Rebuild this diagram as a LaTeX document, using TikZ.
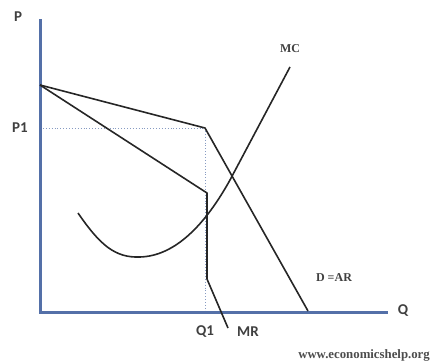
\documentclass[tikz,border=0pt]{standalone}
\usepackage{fontspec}
\setmainfont{Liberation Serif}
\newfontfamily\lblfont{Carlito}
\begin{document}
\begin{tikzpicture}[x=1pt,y=-1pt,
  axisline/.style={draw=axisblue,line width=3pt},
  curve/.style={draw=black!85,line width=1.6pt,line join=round},
  guide/.style={draw=axisblue!70,line width=0.9pt,dotted},
  sanslbl/.style={font=\lblfont\bfseries\fontsize{15}{15}\selectfont,text=black!75,inner sep=0pt},
  seriflbl/.style={font=\bfseries\fontsize{12}{12}\selectfont,text=black!75,inner sep=0pt},
  wmark/.style={font=\bfseries\fontsize{12.8}{12.8}\selectfont,text=black!70,inner sep=0pt,anchor=east}]
\definecolor{axisblue}{RGB}{84,112,168}
\useasboundingbox (0,0) rectangle (431,364);
% coordinates
\coordinate (ytop) at (40,19);
\coordinate (orig) at (40,312);
\coordinate (xend) at (388,312);
\coordinate (A) at (40,85);
\coordinate (K) at (205,128);
\coordinate (Dend) at (308,311);
\coordinate (M1) at (207,193);
\coordinate (M2) at (207,279);
\coordinate (Mend) at (228,328);
\coordinate (P1y) at (40,128);
\coordinate (Q1x) at (205,311);
\coordinate (C0) at (78,213);
\coordinate (Cmin) at (140,257);
\coordinate (Cj) at (230,180);
\coordinate (Ctop) at (290,67);
% guides
\draw[guide] (P1y) -- (K);
\draw[guide] (K) -- (Q1x);
% axes
\draw[axisline] (ytop) -- (orig) -- (xend);
% demand curve
\draw[curve] (A) -- (K) -- (Dend);
% MR
\draw[curve] (A) -- (M1) -- (M2) -- (Mend);
% MC
\draw[curve] (C0) .. controls (100,245) and (115,258) .. (Cmin)
  .. controls (175,256) and (205,225) .. (Cj) -- (Ctop);
% labels
\node[sanslbl] (lP) at (18,17) {P};
\node[sanslbl] (lP1) at (20,128) {P1};
\node[sanslbl] (lQ) at (403,311) {Q};
\node[sanslbl] (lQ1) at (205,332) {Q1};
\node[sanslbl] (lMR) at (248,332) {MR};
\node[seriflbl] (lMC) at (290,49) {MC};
\node[seriflbl] (lD) at (334,278) {D =AR};
\node[wmark] (wm) at (430,355) {www.economicshelp.org};
\end{tikzpicture}
\end{document}
